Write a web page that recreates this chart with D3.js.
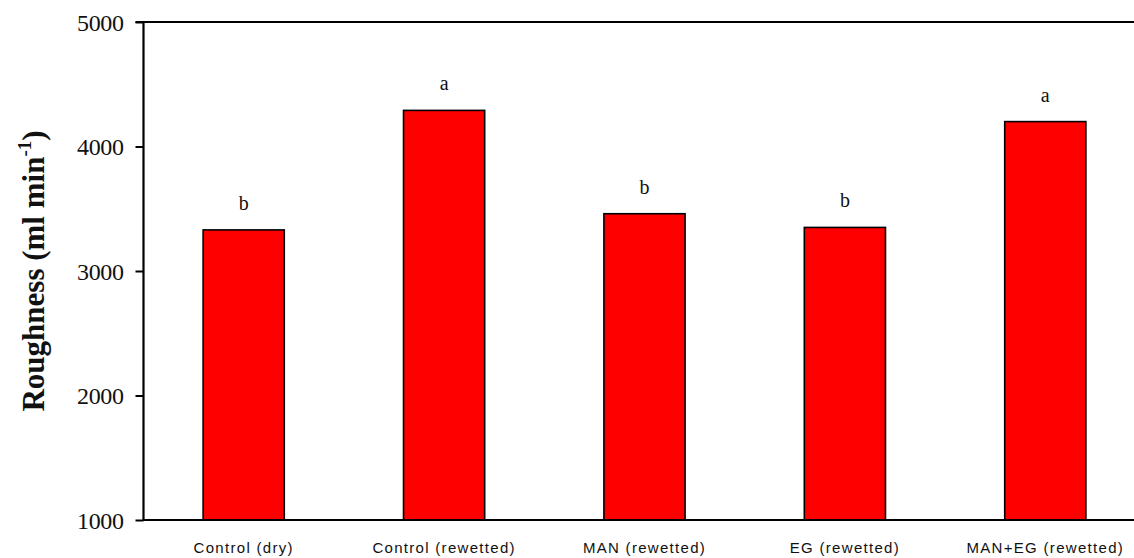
<!DOCTYPE html>
<html>
<head>
<meta charset="utf-8">
<script src="https://cdn.jsdelivr.net/npm/d3@7"></script>
<style>
  html, body { margin: 0; padding: 0; background: #fff; }
  svg { display: block; }
</style>
</head>
<body>
<svg id="chart" width="1134" height="558"></svg>
<script>
// Treatments, mean roughness values and significance letters
const categories = ["Control (dry)", "Control (rewetted)", "MAN (rewetted)", "EG (rewetted)", "MAN+EG (rewetted)"];
const values = [3330, 4290, 3460, 3350, 4200];
const letters = ["b", "a", "b", "b", "a"];
const yTicks = [1000, 2000, 3000, 4000, 5000];

const svg = d3.select("#chart");
const plotLeft = 143.5, plotRight = 1145.5, plotTop = 22, plotBottom = 520;

const x = d3.scaleBand().domain(categories).range([plotLeft, plotRight]).paddingInner(0.595).paddingOuter(0.2975);
const y = d3.scaleLinear().domain([1000, 5000]).range([plotBottom, plotTop]);

// bars
svg.append("g").selectAll("rect").data(categories).join("rect")
  .attr("x", d => x(d))
  .attr("y", (d, i) => y(values[i]))
  .attr("width", x.bandwidth())
  .attr("height", (d, i) => y(1000) - y(values[i]))
  .attr("fill", "#ff0000")
  .attr("stroke", "#000")
  .attr("stroke-width", 1.6);

// significance letters
svg.append("g").selectAll("text").data(categories).join("text")
  .attr("x", d => x(d) + x.bandwidth() / 2)
  .attr("y", (d, i) => y(values[i]) - 20)
  .attr("text-anchor", "middle")
  .attr("font-family", "Liberation Serif, Times New Roman, serif")
  .attr("font-size", 20)
  .attr("fill", "#111")
  .text((d, i) => letters[i]);

// y axis
const yAxis = svg.append("g").attr("transform", `translate(${plotLeft},0)`)
  .call(d3.axisLeft(y).tickValues(yTicks).tickSize(8).tickPadding(12).tickFormat(d3.format("d")));
yAxis.select(".domain").remove();
yAxis.selectAll(".tick line").attr("stroke", "#000").attr("stroke-width", 2);
yAxis.selectAll(".tick text")
  .attr("font-family", "Liberation Serif, Times New Roman, serif")
  .attr("font-size", 24)
  .attr("letter-spacing", "-0.4px")
  .attr("fill", "#111")
  .attr("dy", "0.35em");

// x axis
const xAxis = svg.append("g").attr("transform", `translate(0,${plotBottom})`)
  .call(d3.axisBottom(x).tickSize(0).tickPadding(22));
xAxis.select(".domain").remove();
xAxis.selectAll(".tick text")
  .attr("font-family", "Liberation Sans, Arial, sans-serif")
  .attr("font-size", 15)
  .attr("letter-spacing", "1.3px")
  .attr("fill", "#111");

// frame lines: left, bottom, top
svg.append("line").attr("x1", plotLeft).attr("x2", plotLeft).attr("y1", plotTop - 1).attr("y2", plotBottom + 1)
  .attr("stroke", "#000").attr("stroke-width", 2.2);
svg.append("line").attr("x1", plotLeft).attr("x2", plotRight).attr("y1", plotBottom).attr("y2", plotBottom)
  .attr("stroke", "#000").attr("stroke-width", 2.2);
svg.append("line").attr("x1", plotLeft - 8).attr("x2", plotRight).attr("y1", plotTop).attr("y2", plotTop)
  .attr("stroke", "#000").attr("stroke-width", 2.2);

// y axis title with superscript
const title = svg.append("text")
  .attr("transform", `translate(44,${(plotTop + plotBottom) / 2}) rotate(-90)`)
  .attr("text-anchor", "middle")
  .attr("font-family", "Liberation Serif, Times New Roman, serif")
  .attr("font-weight", "bold")
  .attr("font-size", 31)
  .attr("fill", "#111");
title.append("tspan").text("Roughness (ml min");
title.append("tspan").attr("font-size", 19).attr("dy", -13).text("-1");
title.append("tspan").attr("dy", 13).text(")");
</script>
</body>
</html>
